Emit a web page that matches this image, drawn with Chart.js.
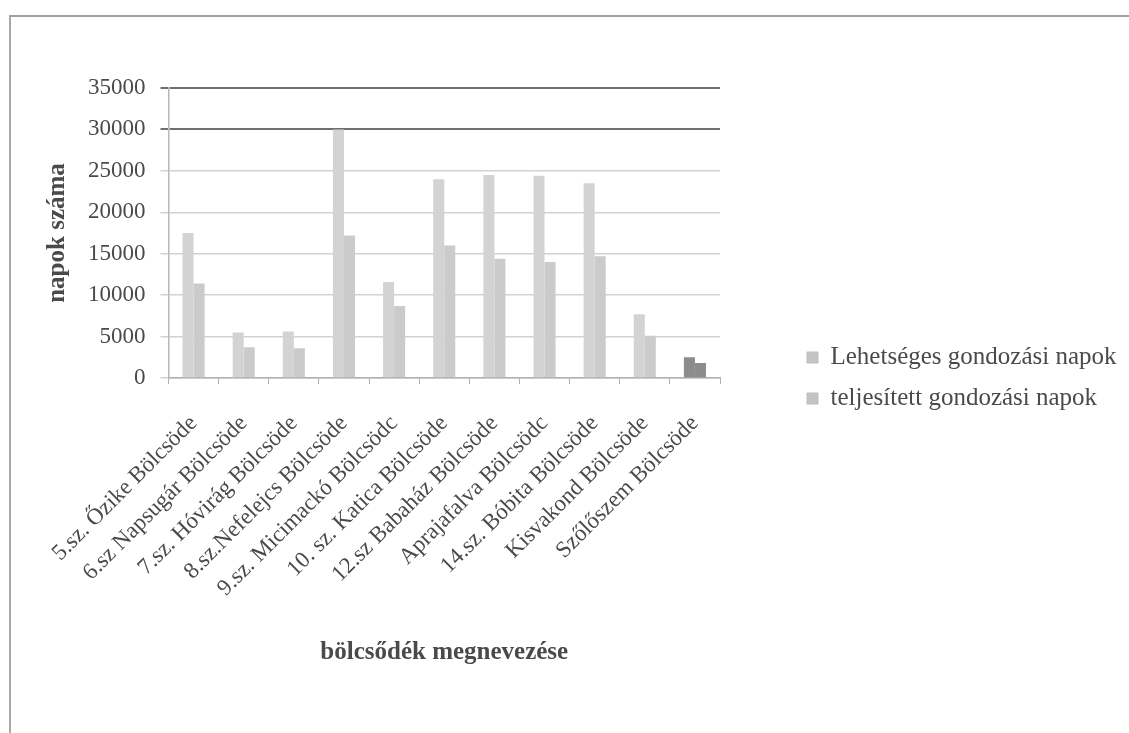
<!DOCTYPE html>
<html>
<head>
<meta charset="utf-8">
<script src="https://cdn.jsdelivr.net/npm/chart.js@4.4.0/dist/chart.umd.min.js"></script>
<style>
  html, body { margin: 0; padding: 0; background: #fff; overflow: hidden; }
  #frame { position: absolute; left: 9px; top: 15px; width: 1140px; height: 760px;
           border-top: 2px solid #a0a0a0; border-left: 2px solid #a8a8a8; }
  #wrap { position: absolute; left: 0; top: 0; width: 1129px; height: 733px; }
</style>
</head>
<body>
<div id="frame"></div>
<div id="wrap"><canvas id="chart"></canvas></div>
<script>
  // data
  const nurseries = [
    "5.sz. Őzike Bölcsöde", "6.sz Napsugár Bölcsöde", "7.sz. Hóvirág Bölcsöde",
    "8.sz.Nefelejcs Bölcsöde", "9.sz. Micimackó Bölcsödc", "10. sz. Katica Bölcsöde",
    "12.sz Babaház Bölcsöde", "Aprajafalva Bölcsödc", "14.sz. Bóbita Bölcsöde",
    "Kisvakond Bölcsöde", "Szőlőszem Bölcsöde"
  ];
  const possibleDays = [17500, 5500, 5600, 30000, 11600, 24000, 24500, 24400, 23500, 7700, 2500];
  const completedDays = [11400, 3700, 3600, 17200, 8700, 16000, 14400, 14000, 14700, 5100, 1800];
  const yTicks = [0, 5000, 10000, 15000, 20000, 25000, 30000, 35000];

  const serif = "'Liberation Serif', 'DejaVu Serif', serif";
  const textColor = '#4a4a4a';
  const darkBar = '#8c8c8c';

  // last group came out dark on the scan
  function colorFor(light) {
    return ctx => ctx.dataIndex === nurseries.length - 1 ? darkBar : light;
  }

  // legend takes the whole strip right of the plot, items pushed right
  const legendWidth = 409;
  const legendShift = 71;
  const legendPlace = {
    id: 'legendPlace',
    beforeInit(chart) {
      const fit = chart.legend.fit;
      chart.legend.fit = function () {
        fit.call(this);
        this.width = legendWidth;
      };
    },
    afterLayout(chart) {
      chart.legend.left += legendShift;
      chart.legend.right += legendShift;
    }
  };

  new Chart(document.getElementById('chart'), {
    type: 'bar',
    data: {
      labels: nurseries,
      datasets: [
        {
          label: 'Lehetséges gondozási napok',
          data: possibleDays,
          backgroundColor: colorFor('#d3d3d3'),
          borderWidth: 0
        },
        {
          label: 'teljesített gondozási napok',
          data: completedDays,
          backgroundColor: colorFor('#cbcbcb'),
          borderWidth: 0
        }
      ]
    },
    options: {
      responsive: true,
      maintainAspectRatio: false,
      animation: false,
      layout: { padding: { top: 88, right: 0, bottom: 65, left: 43 } },
      datasets: {
        bar: { categoryPercentage: 0.44, barPercentage: 1.0 }
      },
      plugins: {
        legend: {
          position: 'right',
          align: 'center',
          labels: {
            boxWidth: 11,
            boxHeight: 11,
            padding: 16,
            color: textColor,
            font: { family: serif, size: 25 },
            generateLabels: chart => chart.data.datasets.map((ds, i) => ({
              text: ds.label,
              fillStyle: '#c4c4c4',
              strokeStyle: '#bdbdbd',
              lineWidth: 1,
              datasetIndex: i,
              fontColor: textColor
            }))
          }
        },
        tooltip: { enabled: false }
      },
      scales: {
        x: {
          grid: {
            display: true,
            drawOnChartArea: false,
            drawTicks: true,
            tickLength: 6,
            color: '#b0b0b0'
          },
          border: { color: '#b0b0b0', width: 1.5 },
          ticks: {
            color: textColor,
            font: { family: serif, size: 23 },
            minRotation: 45,
            maxRotation: 45,
            padding: 26
          },
          title: {
            display: true,
            text: 'bölcsődék megnevezése',
            color: textColor,
            font: { family: serif, size: 25, weight: 'bold' },
            padding: { top: 39, bottom: 0 }
          }
        },
        y: {
          min: 0,
          max: 35000,
          afterBuildTicks: axis => { axis.ticks = yTicks.map(v => ({ value: v })); },
          grid: {
            color: ctx => ctx.tick && ctx.tick.value >= 30000 ? '#707070' : '#d2d2d2',
            lineWidth: ctx => ctx.tick && ctx.tick.value >= 30000 ? 2 : 1.5,
            tickLength: 8
          },
          border: { color: '#b8b8b8', width: 1.5 },
          ticks: {
            color: textColor,
            font: { family: serif, size: 23 },
            padding: 15,
            callback: v => String(v)
          },
          title: {
            display: true,
            text: 'napok száma',
            color: textColor,
            font: { family: serif, size: 25, weight: 'bold' },
            padding: 0
          }
        }
      }
    },
    plugins: [legendPlace]
  });
</script>
</body>
</html>
